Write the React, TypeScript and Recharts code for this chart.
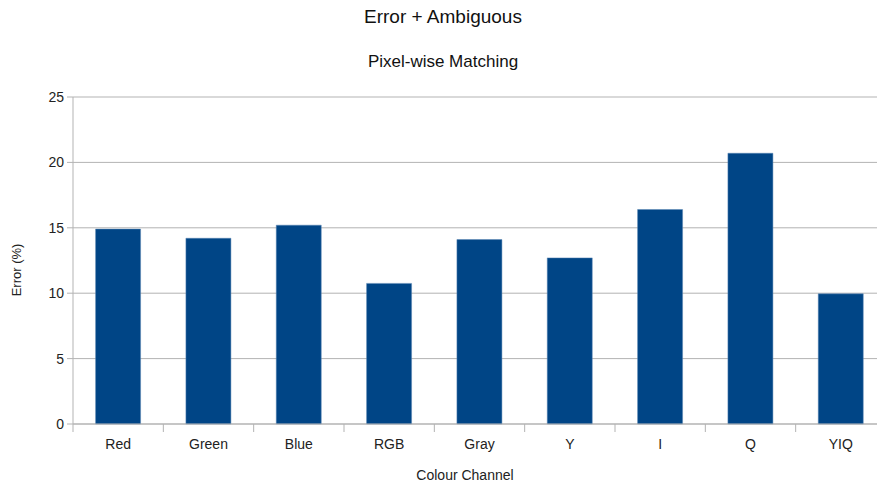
import { BarChart, Bar, XAxis, YAxis, CartesianGrid } from 'recharts'

const channels = ['Red', 'Green', 'Blue', 'RGB', 'Gray', 'Y', 'I', 'Q', 'YIQ']
const errorPct = [14.9, 14.2, 15.2, 10.75, 14.1, 12.7, 16.4, 20.7, 9.95]
const yTicks = [0, 5, 10, 15, 20, 25]

const data = channels.map((name, i) => ({ name, error: errorPct[i] }))

const CHART_W = 886
const CHART_H = 483
const AXIS_W = 73
const BAND = (CHART_W - AXIS_W) / channels.length
const FONT = '"Liberation Sans", Arial, sans-serif'

const CategoryTick = ({ x, y, payload, index }: any) => {
  const left = x - BAND / 2
  return (
    <g>
      <line x1={left} y1={y} x2={left} y2={y + 8} stroke="#b3b3b3" />
      {index === channels.length - 1 && (
        <line x1={x + BAND / 2} y1={y} x2={x + BAND / 2} y2={y + 8} stroke="#b3b3b3" />
      )}
      <text x={x} y={y + 25} textAnchor="middle" fontSize={14} fill="#222" fontFamily={FONT}>
        {payload.value}
      </text>
    </g>
  )
}

export default function App() {
  return (
    <div
      style={{
        position: 'fixed',
        left: 0,
        top: 0,
        width: 877,
        height: 483,
        overflow: 'hidden',
        background: '#fff',
        fontFamily: FONT,
      }}
    >
      <div style={{ position: 'absolute', left: 0, width: CHART_W, top: 6, textAlign: 'center', fontSize: 19, color: '#111' }}>
        Error + Ambiguous
      </div>
      <div style={{ position: 'absolute', left: 0, width: CHART_W, top: 52, textAlign: 'center', fontSize: 17, color: '#111' }}>
        Pixel-wise Matching
      </div>
      <BarChart
        width={CHART_W}
        height={CHART_H}
        data={data}
        margin={{ top: 97, right: 0, bottom: 0, left: 0 }}
        barCategoryGap="25%"
      >
        <CartesianGrid vertical={false} stroke="#b3b3b3" />
        <XAxis
          dataKey="name"
          axisLine={{ stroke: '#b3b3b3' }}
          tickLine={false}
          tickSize={0}
          tickMargin={0}
          tick={<CategoryTick />}
          height={59}
          label={{
            content: () => (
              <text x={465} y={480} textAnchor="middle" fontSize={14} fill="#222" fontFamily={FONT}>
                Colour Channel
              </text>
            ),
          }}
        />
        <YAxis
          width={AXIS_W}
          domain={[0, 25]}
          ticks={yTicks}
          interval={0}
          axisLine={{ stroke: '#b3b3b3' }}
          tickLine={{ stroke: '#b3b3b3' }}
          tickSize={6}
          tickMargin={3}
          tick={{ fontSize: 14, fill: '#222', fontFamily: FONT }}
          label={{
            content: () => (
              <text
                x={21}
                y={270}
                transform="rotate(-90 21 270)"
                textAnchor="middle"
                fontSize={13}
                fill="#222"
                fontFamily={FONT}
              >
                Error (%)
              </text>
            ),
          }}
        />
        <Bar dataKey="error" fill="#004586" stroke="#5a86b4" strokeWidth={0.5} isAnimationActive={false} />
      </BarChart>
    </div>
  )
}
